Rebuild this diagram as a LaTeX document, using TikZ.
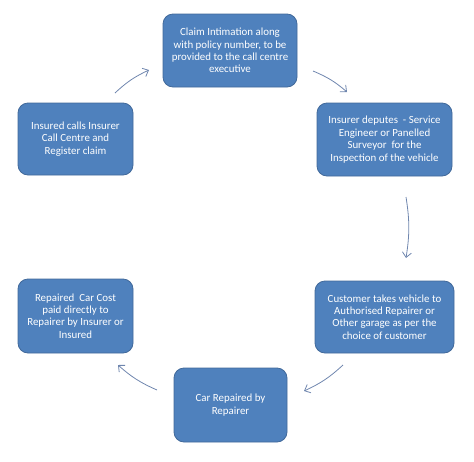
\documentclass[tikz,border=0pt]{standalone}
\usepackage{fontspec}
\setmainfont{Carlito}
\usetikzlibrary{arrows.meta}
\definecolor{boxfill}{HTML}{4F81BD}
\definecolor{boxline}{HTML}{41699A}
\definecolor{arrowcol}{HTML}{6F86AE}
\tikzset{
  stage/.style={draw=boxline, line width=0.8pt, fill=boxfill, rounded corners=10pt,
    text=white, align=center, font=\fontsize{10.9}{12.4}\selectfont, inner sep=0pt},
  flow/.style={draw=arrowcol, line width=0.8pt, -{Straight Barb[length=5pt,width=9pt]}, bend left=9}
}
\begin{document}
\begin{tikzpicture}[x=1pt,y=1pt]
\useasboundingbox (0,0) rectangle (474,-461);
\node[stage, minimum width=134pt, minimum height=73pt] (claim) at (230,-50.5)
  {Claim Intimation along\\with policy number, to be\\provided to the call centre\\executive};
\node[stage, minimum width=135pt, minimum height=73pt] (depute) at (384.5,-139.5)
  {Insurer deputes\ \ - Service\\Engineer or Panelled\\Surveyor\ \ for the\\Inspection of the vehicle};
\node[stage, minimum width=115pt, minimum height=72pt] (calls) at (75.5,-139)
  {Insured calls Insurer\\Call Centre and\\Register claim};
\node[stage, minimum width=139pt, minimum height=72pt] (garage) at (384.5,-317)
  {Customer takes vehicle to\\Authorised Repairer or\\Other garage as per the\\choice of customer};
\node[stage, minimum width=115pt, minimum height=74pt] (paid) at (75.5,-316)
  {Repaired\ \ Car Cost\\paid directly to\\Repairer by Insurer or\\Insured};
\node[stage, minimum width=113pt, minimum height=74pt] (repaired) at (230.5,-405)
  {Car Repaired by\\Repairer};
\coordinate (a1s) at (115,-93);  \coordinate (a1e) at (149,-70);
\coordinate (a2s) at (313,-71);  \coordinate (a2e) at (347,-92);
\coordinate (a3s) at (406,-197); \coordinate (a3e) at (406,-258);
\coordinate (a4s) at (343,-365); \coordinate (a4e) at (304,-391);
\coordinate (a5s) at (157,-390); \coordinate (a5e) at (118,-365);
\draw[flow] (a1s) to (a1e);
\draw[flow] (a2s) to (a2e);
\draw[flow] (a3s) to (a3e);
\draw[flow] (a4s) to (a4e);
\draw[flow] (a5s) to (a5e);
\end{tikzpicture}
\end{document}
